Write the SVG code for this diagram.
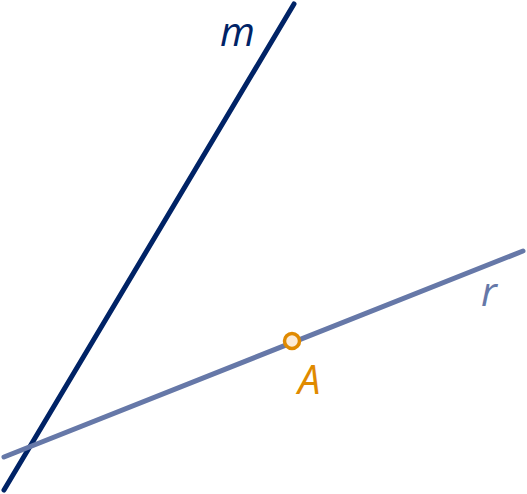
<svg xmlns="http://www.w3.org/2000/svg" width="527" height="494" viewBox="0 0 527 494">
<style>
.ln{fill:none;stroke-width:5;stroke-linecap:round}
.lbl{font-family:"Open Sans","Noto Sans",sans-serif;font-style:italic;font-size:40px}
</style>
<rect width="527" height="494" fill="#fff"/>
<g id="connectors">
<line id="m" class="ln" x1="4" y1="490" x2="294" y2="4" stroke="#002366"/>
<line id="r" class="ln" x1="4" y1="457" x2="523" y2="251" stroke="#6678a8"/>
</g>
<g id="label-m"><text class="lbl" x="220" y="46" fill="#002366">m</text></g>
<g id="label-r"><text class="lbl" x="481" y="306" fill="#6678a8">r</text></g>
<g id="point-A">
<circle cx="292" cy="341" r="7.5" fill="#fcebd6" stroke="#e08a00" stroke-width="3.5"/>
<text class="lbl" x="298" y="394" fill="#e08a00">A</text>
</g>
</svg>
